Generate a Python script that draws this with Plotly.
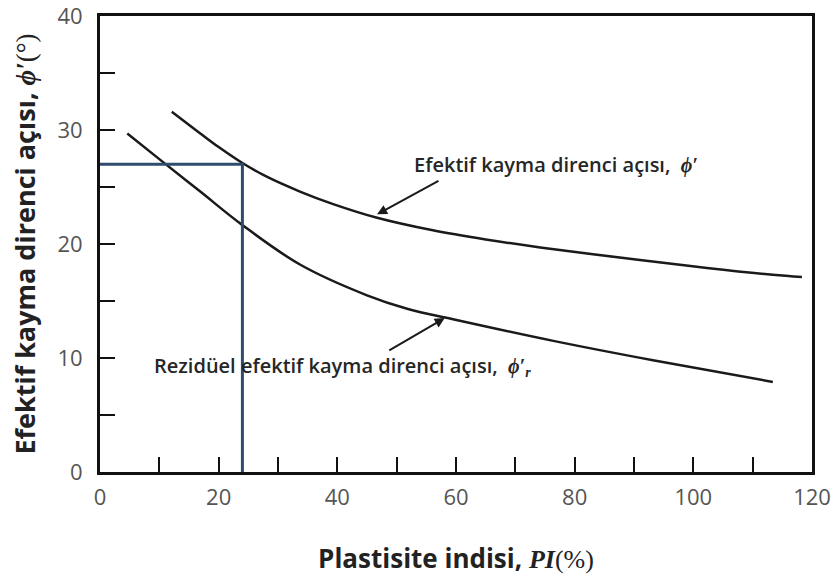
import plotly.graph_objects as go

# Effective friction angle vs plasticity index
pi_eff = [12.1, 16.9, 20.0, 24.0, 28.1, 33.7, 39.3, 46.7, 56.1, 65.0, 74.2, 91.0, 102.3, 113.4, 118.3]
phi_eff = [31.6, 29.7, 28.5, 27.1, 25.9, 24.6, 23.5, 22.3, 21.2, 20.4, 19.7, 18.6, 17.9, 17.3, 17.1]

# Residual effective friction angle vs plasticity index
pi_res = [4.6, 10.1, 16.9, 23.9, 33.7, 45.0, 51.9, 59.5, 76.4, 93.2, 113.4]
phi_res = [29.7, 27.4, 24.6, 21.7, 18.2, 15.5, 14.3, 13.4, 11.5, 9.8, 7.9]

# Reading line: PI = 24 % -> phi' = 27 deg
pi_read = 24
phi_read = 27

x_ticks = [0, 20, 40, 60, 80, 100, 120]
y_ticks = [0, 10, 20, 30, 40]

FONT = "Open Sans"
SERIF = "Liberation Serif, DejaVu Serif, serif"
serif_span = "<span style=\"font-family:" + SERIF + "\">"

fig = go.Figure()

fig.add_trace(go.Scatter(
    x=pi_eff, y=phi_eff, mode="lines",
    line=dict(color="#1a1a1a", width=2.5, shape="spline", smoothing=1.0),
    showlegend=False, hoverinfo="skip"))
fig.add_trace(go.Scatter(
    x=pi_res, y=phi_res, mode="lines",
    line=dict(color="#1a1a1a", width=2.5, shape="spline", smoothing=1.0),
    showlegend=False, hoverinfo="skip"))
fig.add_trace(go.Scatter(
    x=[0, pi_read, pi_read], y=[phi_read, phi_read, 0], mode="lines",
    line=dict(color="#2f4b6e", width=3), showlegend=False, hoverinfo="skip"))

ann_font = dict(family=FONT, size=20, color="#262626", weight=600)

fig.add_annotation(
    x=52.6, y=27.0, xref="x", yref="y", xanchor="left", yanchor="middle", showarrow=False,
    text="Efektif kayma direnci açısı,  " + serif_span + "<b><i>ϕ′</i></b></span>",
    font=ann_font)
fig.add_annotation(
    x=46.7, y=22.6, ax=57.3, ay=25.6, xref="x", yref="y", axref="x", ayref="y",
    text="", showarrow=True, arrowhead=2, arrowsize=1, arrowwidth=2, arrowcolor="#1a1a1a")

fig.add_annotation(
    x=8.8, y=9.3, xref="x", yref="y", xanchor="left", yanchor="middle", showarrow=False,
    text="Rezidüel efektif kayma direnci açısı,  " + serif_span + "<b><i>ϕ′<sub>r</sub></i></b></span>",
    font=ann_font)
fig.add_annotation(
    x=58.1, y=13.5, ax=48.5, ay=10.6, xref="x", yref="y", axref="x", ayref="y",
    text="", showarrow=True, arrowhead=2, arrowsize=1, arrowwidth=2, arrowcolor="#1a1a1a")

axis_common = dict(
    ticks="inside", ticklen=15, tickwidth=2, tickcolor="#111",
    showline=True, linecolor="#111", linewidth=3, mirror=True,
    showgrid=False, zeroline=False, automargin=False,
    ticklabeloverflow="allow",
    tickfont=dict(family=FONT, size=22, color="#555555"),
)

fig.update_layout(
    width=833, height=578,
    margin=dict(l=100, r=21, t=16, b=106),
    paper_bgcolor="white", plot_bgcolor="white",
    font=dict(family=FONT, color="#222"),
    xaxis=dict(
        range=[0, 120], tickvals=x_ticks, ticktext=[str(v) for v in x_ticks],
        minor=dict(dtick=10, ticks="inside", ticklen=15, tickwidth=2, tickcolor="#111"),
        ticklabelstandoff=4,
        title=dict(
            text="<b>Plastisite indisi, </b>" + serif_span + "<b><i>PI</i></b>(%)</span>",
            font=dict(family=FONT, size=26, color="#222"), standoff=40),
        **axis_common,
    ),
    yaxis=dict(
        range=[0, 40], tickvals=y_ticks, ticktext=[str(v) for v in y_ticks],
        minor=dict(dtick=5, ticks="inside", ticklen=15, tickwidth=2, tickcolor="#111"),
        ticklabelstandoff=10,
        title=dict(
            text="<b>Efektif kayma direnci açısı, </b>" + serif_span + "<b><i>ϕ′</i></b>(°)</span>",
            font=dict(family=FONT, size=27, color="#222"), standoff=14),
        **axis_common,
    ),
)

fig.write_html("out.html")
